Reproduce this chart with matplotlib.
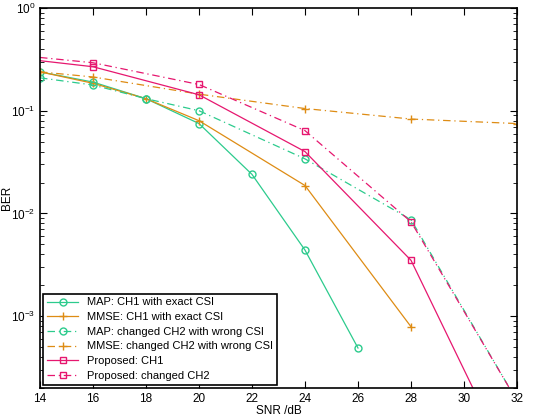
import numpy as np
import matplotlib.pyplot as plt
from matplotlib.ticker import LogLocator, NullFormatter

# SNR points (dB) and BER values
snr_map1 = [14, 16, 18, 20, 22, 24, 26]
ber_map1 = [0.239, 0.19, 0.131, 0.075, 0.024, 0.0044, 0.00049]

snr_mmse1 = [14, 16, 18, 20, 24, 28]
ber_mmse1 = [0.239, 0.185, 0.131, 0.08, 0.0187, 0.00079]

snr_map2 = [14, 16, 18, 20, 24, 28, 32]
ber_map2 = [0.209, 0.178, 0.131, 0.1, 0.034, 0.0087, 0.00015]

snr_mmse2 = [14, 16, 20, 24, 28, 32]
ber_mmse2 = [0.239, 0.213, 0.145, 0.105, 0.083, 0.075]

snr_prop1 = [14, 16, 20, 24, 28, 32]
ber_prop1 = [0.307, 0.268, 0.143, 0.04, 0.0035, 0.000026]

snr_prop2 = [14, 16, 20, 24, 28, 32]
ber_prop2 = [0.33, 0.293, 0.18, 0.064, 0.0083, 0.00015]

green = '#2ccb8d'
orange = '#de8c14'
pink = '#e6176f'

plt.rcParams['font.family'] = ['Liberation Sans', 'DejaVu Sans']
fig = plt.figure(figsize=(5.5, 4.16), dpi=100)
ax = fig.add_axes([0.0727, 0.0673, 0.8673, 0.9135])

ms = 5
lw = 0.9
dd = (6, 3, 1, 3)
ax.semilogy(snr_map1, ber_map1, '-o', color=green, mfc='none', ms=ms, lw=lw,
            label='MAP: CH1 with exact CSI')
ax.semilogy(snr_mmse1, ber_mmse1, '-+', color=orange, ms=ms + 1, lw=lw,
            label='MMSE: CH1 with exact CSI')
ax.semilogy(snr_map2, ber_map2, '-.o', color=green, mfc='none', ms=ms, lw=lw,
            dashes=dd, label='MAP: changed CH2 with wrong CSI')
ax.semilogy(snr_mmse2, ber_mmse2, '-.+', color=orange, ms=ms + 1, lw=lw,
            dashes=dd, label='MMSE: changed CH2 with wrong CSI')
ax.semilogy(snr_prop1, ber_prop1, '-s', color=pink, mfc='none', ms=ms, lw=lw,
            markevery=slice(1, None), label='Proposed: CH1')
ax.semilogy(snr_prop2, ber_prop2, '-.s', color=pink, mfc='none', ms=ms, lw=lw,
            dashes=dd, markevery=slice(1, None),
            label='Proposed: changed CH2')

ax.set_xlim(14, 32)
ax.set_ylim(2e-4, 1)
ax.set_xticks(np.arange(14, 33, 2))
ax.yaxis.set_major_locator(LogLocator(base=10, numticks=10))
ax.yaxis.set_minor_locator(LogLocator(base=10, subs=np.arange(2, 10), numticks=20))
ax.yaxis.set_minor_formatter(NullFormatter())
ax.tick_params(which='both', direction='in', top=True, right=True, labelsize=8.5)
ax.tick_params(which='major', length=5)
ax.tick_params(which='minor', length=3)
for s in ax.spines.values():
    s.set_linewidth(1.2)

ax.set_xlabel('SNR /dB', fontsize=8.5, labelpad=0)
ax.set_ylabel('BER', fontsize=8.5)
ax.yaxis.set_label_coords(-0.056, 0.5)

leg = ax.legend(loc='lower left', fontsize=8, fancybox=False, framealpha=1,
                edgecolor='black', borderaxespad=0.3, handlelength=2.8,
                labelspacing=0.42, borderpad=0.35)
leg.get_frame().set_linewidth(1.2)

fig.savefig('out.png', dpi=100)
